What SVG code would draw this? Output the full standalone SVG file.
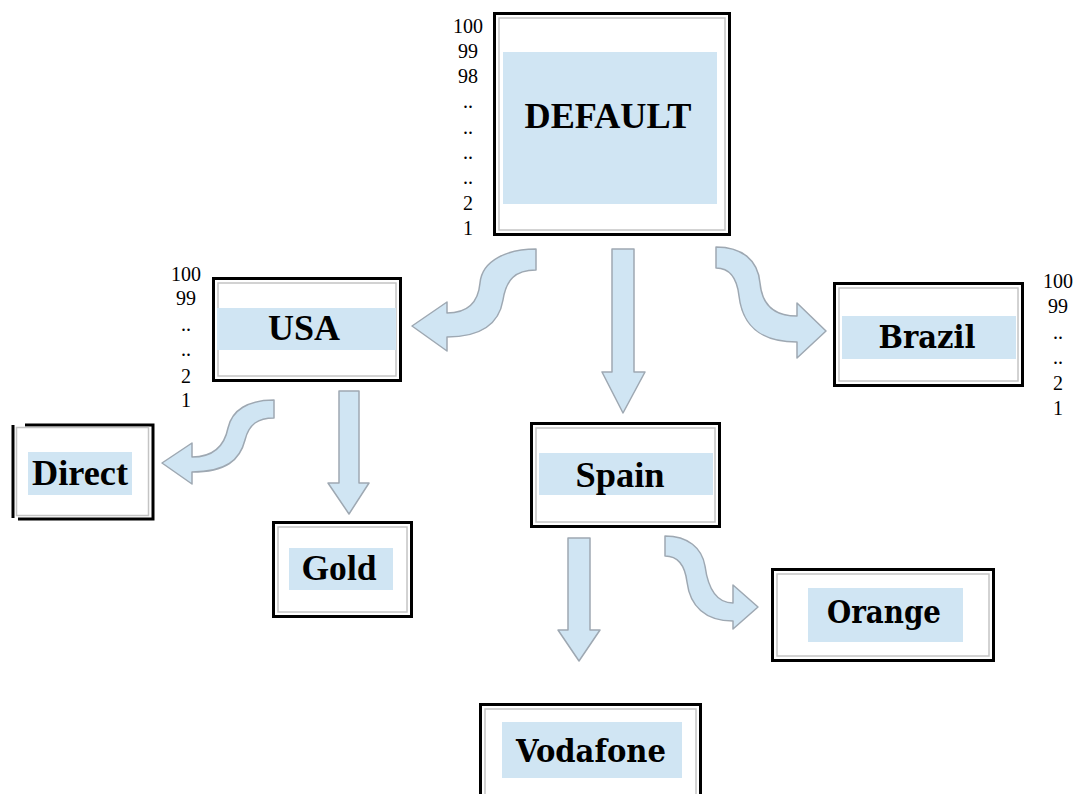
<svg xmlns="http://www.w3.org/2000/svg" width="1077" height="794" viewBox="0 0 1077 794">
<style>
.outer{fill:#fff;stroke:#000;stroke-width:3}
.inner{fill:none;stroke:#c4c4c4;stroke-width:1.5}
.band{fill:#d0e5f3}
.lbl{font-family:"Liberation Serif","Times New Roman",serif;font-weight:bold;font-size:36px;fill:#000;text-anchor:middle}
.lbl2{font-family:"DejaVu Serif","Liberation Serif",serif;font-weight:bold;font-size:32px;fill:#000;text-anchor:middle}
.num{font-family:"Liberation Serif","Times New Roman",serif;font-size:20px;fill:#000;text-anchor:middle}
.arr{fill:#d0e5f3;stroke:#9ea8b2;stroke-width:1.5;stroke-linejoin:round}
</style>
<rect width="1077" height="794" fill="#fff"/>

<g id="connectors">
  <path class="arr" d="M612,249 L634,249 L634,372 L645,372 L623,413 L602,372 L612,372 Z"/>
  <path class="arr" d="M536,249 C508,249 482,260 480,283 C478,305 465,313 447,313 L447,302 L412,326 L447,351 L447,337 C482,337 499,324 503,300 C506,280 515,270 536,270 Z"/>
  <path class="arr" d="M716,247 C742,247 758,260 760,283 C762,305 775,316 797,316 L797,303 L826,331 L797,358 L797,342 C765,342 743,330 739,296 C737,278 730,268 716,268 Z"/>
  <path class="arr" d="M274,400 C248,400 232,410 228,428 C224,448 212,457 192,457 L192,443 L162,463 L192,484 L192,472 C226,472 240,460 245,440 C249,424 258,418 274,418 Z"/>
  <path class="arr" d="M339,391 L359,391 L359,483 L369,483 L349,514 L328,483 L339,483 Z"/>
  <path class="arr" d="M568,538 L590,538 L590,630 L600,630 L579,661 L558,630 L568,630 Z"/>
  <path class="arr" d="M665,536 C688,536 702,548 705,566 C708,588 716,603 733,603 L733,585 L758,607 L733,629 L733,621 C705,621 690,606 687,582 C685,566 678,556 665,556 Z"/>
</g>

<g id="node-default">
  <rect class="outer" x="494.5" y="13.5" width="235" height="221"/>
  <rect class="inner" x="499" y="18" width="226" height="212"/>
  <rect class="band" x="503" y="52" width="214" height="152"/>
  <text class="lbl" x="608" y="128" textLength="167" lengthAdjust="spacingAndGlyphs">DEFAULT</text>
  <g class="num">
    <text x="468" y="33">100</text>
    <text x="468" y="58">99</text>
    <text x="468" y="83">98</text>
    <text x="468" y="108">..</text>
    <text x="468" y="134">..</text>
    <text x="468" y="159">..</text>
    <text x="468" y="184">..</text>
    <text x="468" y="210">2</text>
    <text x="468" y="235">1</text>
  </g>
</g>

<g id="node-usa">
  <rect class="outer" x="213.5" y="278.5" width="187" height="102"/>
  <rect class="inner" x="218" y="283" width="178" height="93"/>
  <rect class="band" x="217" y="308" width="179" height="42"/>
  <text class="lbl" x="304" y="340" textLength="72" lengthAdjust="spacingAndGlyphs">USA</text>
  <g class="num">
    <text x="186" y="281">100</text>
    <text x="186" y="305">99</text>
    <text x="186" y="331">..</text>
    <text x="186" y="356">..</text>
    <text x="186" y="383">2</text>
    <text x="186" y="407">1</text>
  </g>
</g>

<g id="node-brazil">
  <rect class="outer" x="834.5" y="283.5" width="188" height="102"/>
  <rect class="inner" x="839" y="288" width="179" height="93"/>
  <rect class="band" x="842" y="316" width="174" height="43"/>
  <text class="lbl2" x="927" y="348" textLength="97" lengthAdjust="spacingAndGlyphs">Brazil</text>
  <g class="num">
    <text x="1058" y="288">100</text>
    <text x="1058" y="313">99</text>
    <text x="1058" y="339">..</text>
    <text x="1058" y="364">..</text>
    <text x="1058" y="390">2</text>
    <text x="1058" y="415">1</text>
  </g>
</g>

<g id="node-direct">
  <rect x="13" y="425" width="140" height="94" fill="#fff"/>
  <path d="M13,425 L13,518 M25,425 L153,425 L153,519 L18,519" fill="none" stroke="#000" stroke-width="3"/>
  <rect class="inner" x="16.5" y="427.5" width="132" height="88"/>
  <rect class="band" x="28" y="452" width="104" height="43"/>
  <text class="lbl" x="80" y="485" textLength="96" lengthAdjust="spacingAndGlyphs">Direct</text>
</g>

<g id="node-gold">
  <rect class="outer" x="273.5" y="522.5" width="138" height="94"/>
  <rect class="inner" x="278" y="527" width="129" height="85"/>
  <rect class="band" x="289" y="548" width="104" height="42"/>
  <text class="lbl" x="339" y="580" textLength="75" lengthAdjust="spacingAndGlyphs">Gold</text>
</g>

<g id="node-spain">
  <rect class="outer" x="531.5" y="423.5" width="188" height="103"/>
  <rect class="inner" x="536" y="428" width="179" height="94"/>
  <rect class="band" x="539" y="453" width="174" height="42"/>
  <text class="lbl" x="620" y="487" textLength="89" lengthAdjust="spacingAndGlyphs">Spain</text>
</g>

<g id="node-orange">
  <rect class="outer" x="772.5" y="569.5" width="221" height="91"/>
  <rect class="inner" x="777" y="574" width="212" height="82"/>
  <rect class="band" x="808" y="588" width="155" height="54"/>
  <text class="lbl2" x="884" y="623" textLength="114" lengthAdjust="spacingAndGlyphs">Orange</text>
</g>

<g id="node-vodafone">
  <rect class="outer" x="480.5" y="704.5" width="220" height="100"/>
  <rect class="inner" x="485" y="709" width="211" height="95"/>
  <rect class="band" x="502" y="722" width="180" height="56"/>
  <text class="lbl2" x="591" y="762" textLength="150" lengthAdjust="spacingAndGlyphs">Vodafone</text>
</g>
</svg>
